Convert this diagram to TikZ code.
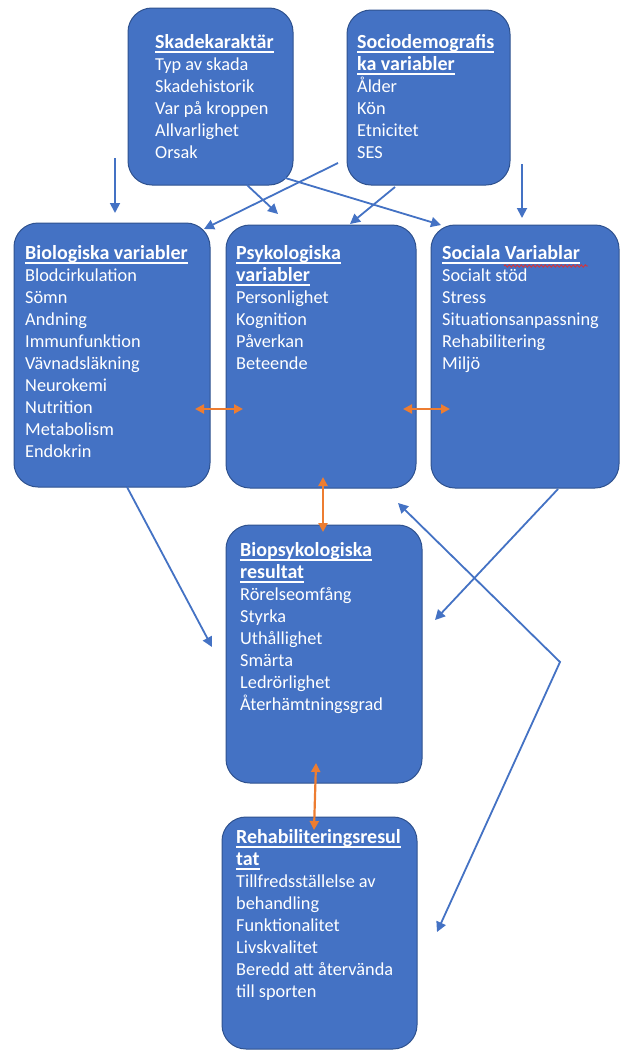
\documentclass[tikz,border=0pt]{standalone}
\usepackage{fontspec}
\setmainfont{Carlito}
\newsavebox{\tulbox}
\newcommand{\tul}[1]{\sbox{\tulbox}{#1}\rlap{\rule[-4.8pt]{\wd\tulbox}{1.6pt}}\usebox{\tulbox}}
\newcommand{\ttl}[1]{{\fontsize{20}{22}\selectfont\bfseries\tul{#1}}}
\usetikzlibrary{arrows.meta,decorations.pathmorphing}
\definecolor{boxblue}{HTML}{4472C4}
\definecolor{boxedge}{HTML}{2F528F}
\definecolor{arrblue}{HTML}{4472C4}
\definecolor{arrorange}{HTML}{ED7D31}
\definecolor{spellred}{HTML}{E03030}
\begin{document}
\begin{tikzpicture}[x=1pt,y=-1pt,
  box/.style={draw=boxedge, line width=1pt, fill=boxblue, rounded corners=24pt, inner sep=0pt, outer sep=0pt, anchor=north west},
  txt/.style={anchor=north west, inner sep=0pt, align=left, text=white, font=\fontsize{18.3}{22}\selectfont},
  blarrow/.style={draw=arrblue, line width=1.8pt, -{Triangle[length=10pt,width=10pt]}},
  blboth/.style={draw=arrblue, line width=1.8pt, {Triangle[length=10pt,width=10pt]}-{Triangle[length=10pt,width=10pt]}},
  orarrow/.style={draw=arrorange, line width=2.2pt, {Triangle[length=9pt,width=9pt]}-{Triangle[length=9pt,width=9pt]}}]
\fill[white] (0,0) rectangle (620,1052);
\useasboundingbox (0,0) rectangle (620,1052);

% boxes
\node[box, minimum width=165pt, minimum height=177pt] (skade) at (128,8) {};
\node[box, minimum width=163pt, minimum height=175pt] (socio) at (347,10) {};
\node[box, minimum width=196pt, minimum height=264pt] (bio) at (14,223) {};
\node[box, minimum width=190pt, minimum height=263pt] (psyk) at (226,225) {};
\node[box, minimum width=188pt, minimum height=263pt] (soc) at (431,225) {};
\node[box, minimum width=196pt, minimum height=258pt] (biopsy) at (226,525) {};
\node[box, minimum width=195pt, minimum height=232pt] (rehab) at (222,817) {};

% texts
\node[txt] (skadetxt) at (155,32.6) {\strut\ttl{Skadekaraktär}\\Typ av skada\\Skadehistorik\\Var på kroppen\\Allvarlighet\\Orsak};
\node[txt] (sociotxt) at (357,32.6) {\strut\ttl{Sociodemografis}\\\ttl{ka variabler}\\Ålder\\Kön\\Etnicitet\\SES};
\node[txt] (biotxt) at (25,243.6) {\strut\ttl{Biologiska variabler}\\Blodcirkulation\\Sömn\\Andning\\Immunfunktion\\Vävnadsläkning\\Neurokemi\\Nutrition\\Metabolism\\Endokrin};
\node[txt] (psyktxt) at (236,243.6) {\strut\ttl{Psykologiska}\\\ttl{variabler}\\Personlighet\\Kognition\\Påverkan\\Beteende};
\node[txt] (soctxt) at (442,243.6) {\strut\ttl{Sociala Variablar}\\Socialt stöd\\Stress\\Situationsanpassning\\Rehabilitering\\Miljö};
\node[txt] (biopsytxt) at (240,540.6) {\strut\ttl{Biopsykologiska}\\\ttl{resultat}\\Rörelseomfång\\Styrka\\Uthållighet\\Smärta\\Ledrörlighet\\Återhämtningsgrad};
\node[txt] (rehabtxt) at (236,827.6) {\strut\ttl{Rehabiliteringsresul}\\\ttl{tat}\\Tillfredsställelse av\\behandling\\Funktionalitet\\Livskvalitet\\Beredd att återvända\\till sporten};

% spell-check wave
\coordinate (sw1) at (504,266);
\coordinate (sw2) at (588,266);
\draw[spellred, line width=0.8pt, decorate, decoration={snake, amplitude=1.2pt, segment length=4pt}] (sw1) -- (sw2);

% blue arrow end points
\coordinate (a1s) at (115,158);  \coordinate (a1e) at (115,213);
\coordinate (a2s) at (247,185);  \coordinate (a2e) at (278,214);
\coordinate (a3s) at (282,177);  \coordinate (a3e) at (441,225);
\coordinate (a4s) at (338,163);  \coordinate (a4e) at (204,229);
\coordinate (a5s) at (395,187);  \coordinate (a5e) at (350,224);
\coordinate (a6s) at (522,164);  \coordinate (a6e) at (522,218);
\coordinate (a7s) at (127,487);  \coordinate (a7e) at (212,647);
\coordinate (a8s) at (558,489);  \coordinate (a8e) at (435,620);
\coordinate (a9a) at (398,503);  \coordinate (a9m) at (560,662);  \coordinate (a9b) at (437,932);

\draw[blarrow] (a1s) -- (a1e);
\draw[blarrow] (a2s) -- (a2e);
\draw[blarrow] (a3s) -- (a3e);
\draw[blarrow] (a4s) -- (a4e);
\draw[blarrow] (a5s) -- (a5e);
\draw[blarrow] (a6s) -- (a6e);
\draw[blarrow] (a7s) -- (a7e);
\draw[blarrow] (a8s) -- (a8e);
\draw[blboth] (a9a) -- (a9m) -- (a9b);

% orange double arrows
\coordinate (o1a) at (195,409); \coordinate (o1b) at (243,409);
\coordinate (o2a) at (403,409); \coordinate (o2b) at (450,409);
\coordinate (o3a) at (323,477); \coordinate (o3b) at (323,532);
\coordinate (o4a) at (316,763); \coordinate (o4b) at (314,830);
\draw[orarrow] (o1a) -- (o1b);
\draw[orarrow] (o2a) -- (o2b);
\draw[orarrow] (o3a) -- (o3b);
\draw[orarrow] (o4a) -- (o4b);
\end{tikzpicture}
\end{document}
